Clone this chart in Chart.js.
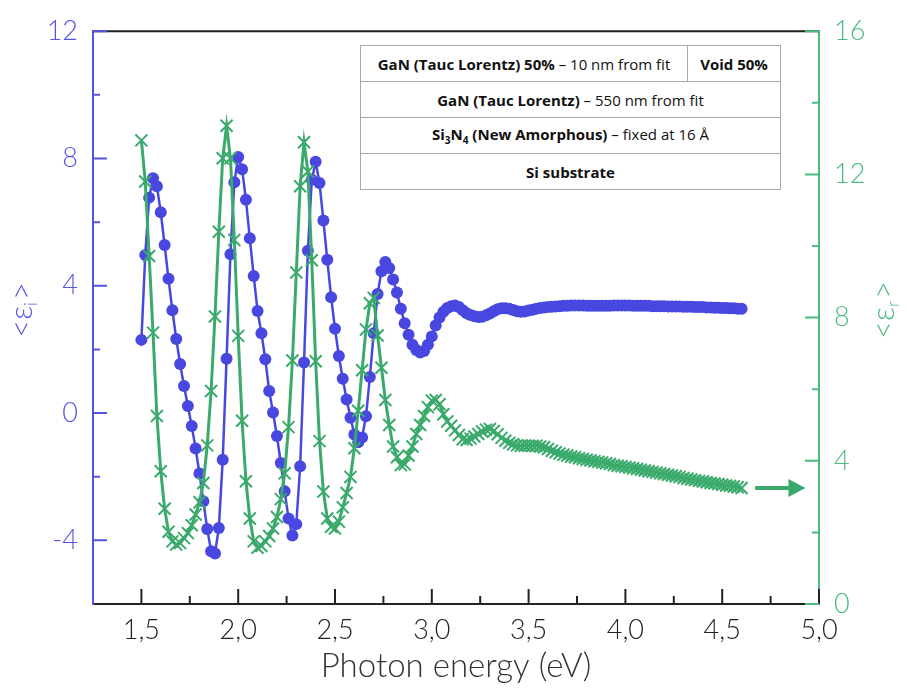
<!DOCTYPE html>
<html>
<head>
<meta charset="utf-8">
<script src="https://cdn.jsdelivr.net/npm/chart.js@4.4.1/dist/chart.umd.min.js"></script>
<style>
  body { margin: 0; background: #fff; }
  #wrap { position: relative; width: 907px; height: 694px; }
  #stack {
    position: absolute; left: 360px; top: 45px; width: 421px;
    border-collapse: collapse; background: #fff;
    font-family: 'Open Sans', sans-serif; font-size: 15px; color: #111;
  }
  #stack td { border: 1.5px solid #a8a8a8; height: 35px; padding: 0; text-align: center; white-space: nowrap; }
  #stack b { font-weight: 700; }
  #stack sub { font-size: 10px; }
</style>
</head>
<body>
<div id="wrap">
  <canvas id="chart" width="907" height="694"></canvas>
  <table id="stack">
    <tr><td style="width:326px"><b>GaN (Tauc Lorentz) 50%</b> – 10 nm from fit</td><td><b>Void 50%</b></td></tr>
    <tr><td colspan="2"><b>GaN (Tauc Lorentz)</b> – 550 nm from fit</td></tr>
    <tr><td colspan="2"><b>Si<sub>3</sub>N<sub>4</sub> (New Amorphous)</b> – fixed at 16 Å</td></tr>
    <tr><td colspan="2"><b>Si substrate</b></td></tr>
  </table>
</div>
<script>
// ── Data ─────────────────────────────────────────────────────
const energy = [
  1.50,1.52,1.54,1.56,1.58,1.60,1.62,1.64,1.66,1.68,1.70,1.72,1.74,1.76,1.78,1.80,1.82,1.84,1.86,1.88,
  1.90,1.92,1.94,1.96,1.98,2.00,2.02,2.04,2.06,2.08,2.10,2.12,2.14,2.16,2.18,2.20,2.22,2.24,2.26,2.28,
  2.30,2.32,2.34,2.36,2.38,2.40,2.42,2.44,2.46,2.48,2.50,2.52,2.54,2.56,2.58,2.60,2.62,2.64,2.66,2.68,
  2.70,2.72,2.74,2.76,2.78,2.80,2.82,2.84,2.86,2.88,2.90,2.92,2.94,2.96,2.98,3.00,3.02,3.04,3.06,3.08,
  3.10,3.12,3.14,3.16,3.18,3.20,3.22,3.24,3.26,3.28,3.30,3.32,3.34,3.36,3.38,3.40,3.42,3.44,3.46,3.48,
  3.50,3.52,3.54,3.56,3.58,3.60,3.62,3.64,3.66,3.68,3.70,3.72,3.74,3.76,3.78,3.80,3.82,3.84,3.86,3.88,
  3.90,3.92,3.94,3.96,3.98,4.00,4.02,4.04,4.06,4.08,4.10,4.12,4.14,4.16,4.18,4.20,4.22,4.24,4.26,4.28,
  4.30,4.32,4.34,4.36,4.38,4.40,4.42,4.44,4.46,4.48,4.50,4.52,4.54,4.56,4.58,4.60
];

// <ε_i>, left axis
const epsI = [
  2.30,4.97,6.77,7.38,7.13,6.31,5.28,4.22,3.23,2.33,1.54,0.85,0.22,-0.41,-1.11,-1.90,-2.77,-3.64,-4.34,-4.41,
  -3.61,-1.47,1.71,4.99,7.25,8.05,7.66,6.70,5.49,4.31,3.21,2.51,1.69,0.69,0.02,-0.72,-1.57,-2.46,-3.31,-3.85,
  -3.49,-1.67,1.59,5.10,7.33,7.90,7.23,6.05,4.82,3.64,2.65,1.79,1.08,0.43,-0.15,-0.67,-0.92,-0.77,-0.10,1.13,
  2.51,3.74,4.46,4.75,4.56,4.20,3.79,3.28,2.82,2.46,2.15,1.98,1.90,1.95,2.15,2.41,2.75,3.00,3.18,3.30,
  3.36,3.38,3.33,3.23,3.14,3.08,3.04,3.02,3.03,3.07,3.13,3.20,3.26,3.29,3.29,3.28,3.24,3.20,3.18,3.19,
  3.22,3.25,3.28,3.30,3.32,3.33,3.34,3.35,3.36,3.37,3.37,3.38,3.38,3.38,3.38,3.37,3.37,3.37,3.37,3.37,
  3.37,3.37,3.38,3.38,3.38,3.38,3.38,3.37,3.37,3.37,3.37,3.37,3.36,3.36,3.36,3.36,3.35,3.35,3.35,3.35,
  3.34,3.34,3.34,3.33,3.33,3.33,3.32,3.32,3.31,3.31,3.30,3.30,3.29,3.29,3.28,3.28
];

// <ε_r>, right axis
const epsR = [
  12.95,11.80,9.72,7.58,5.25,3.71,2.66,2.02,1.75,1.66,1.70,1.84,1.98,2.20,2.50,2.84,3.38,4.43,5.95,8.03,
  10.40,12.45,13.36,12.45,10.17,7.49,5.12,3.43,2.39,1.75,1.57,1.62,1.75,1.90,2.11,2.43,2.93,3.65,4.94,6.80,
  9.26,11.67,12.90,12.08,9.60,6.78,4.55,3.14,2.39,2.16,2.11,2.30,2.70,3.10,3.55,4.35,5.40,6.53,7.67,8.40,
  8.55,7.50,6.60,5.70,5.00,4.40,4.10,3.88,3.90,4.15,4.40,4.75,5.00,5.25,5.50,5.68,5.70,5.58,5.30,5.10,
  4.98,4.85,4.72,4.60,4.58,4.62,4.68,4.75,4.82,4.87,4.89,4.83,4.74,4.64,4.56,4.50,4.46,4.43,4.42,4.42,
  4.42,4.42,4.42,4.40,4.38,4.33,4.28,4.24,4.20,4.17,4.15,4.12,4.10,4.07,4.05,4.03,4.01,3.99,3.97,3.95,
  3.93,3.91,3.88,3.86,3.85,3.83,3.81,3.79,3.77,3.75,3.73,3.71,3.69,3.67,3.65,3.63,3.61,3.59,3.57,3.55,
  3.52,3.50,3.48,3.46,3.44,3.42,3.40,3.38,3.37,3.35,3.33,3.31,3.30,3.28,3.26,3.24
];

const xTicks      = [1.5, 2.0, 2.5, 3.0, 3.5, 4.0, 4.5, 5.0];
const xMinor      = [1.75, 2.25, 2.75, 3.25, 3.75, 4.25, 4.75];
const leftTicks   = [-4, 0, 4, 8, 12];
const leftMinor   = [-2, 2, 6, 10];
const rightTicks  = [0, 4, 8, 12, 16];
const rightMinor  = [2, 6, 10, 14];

// ── Styling ──────────────────────────────────────────────────
const BLUE   = '#4848e0';
const BLUE_AX = '#5555e4';
const GREEN  = '#3aaa6c';
const GREEN_AX = '#4dba7e';
const TICK_FONT = { family: "Lato, 'Open Sans', sans-serif", size: 27, weight: '300' };

const setTicks = vals => scale => { scale.ticks = vals.map(v => ({ value: v })); };

// ticks inward, axis titles with subscripts, top border, arrow
const decor = {
  id: 'decor',
  afterDatasetsDraw(chart) {
    const { ctx, chartArea: a, scales } = chart;
    ctx.save();
    ctx.lineWidth = 2;

    // top frame line
    ctx.strokeStyle = '#222';
    ctx.beginPath(); ctx.moveTo(a.left, a.top); ctx.lineTo(a.right, a.top); ctx.stroke();

    const mark = (color, fn) => { ctx.strokeStyle = color; ctx.beginPath(); fn(); ctx.stroke(); };
    mark('#222', () => {
      xTicks.forEach(v => { const p = scales.x.getPixelForValue(v); ctx.moveTo(p, a.bottom); ctx.lineTo(p, a.bottom - 15); });
      xMinor.forEach(v => { const p = scales.x.getPixelForValue(v); ctx.moveTo(p, a.bottom); ctx.lineTo(p, a.bottom - 8); });
    });
    mark(BLUE_AX, () => {
      leftTicks.forEach(v => { const p = scales.yL.getPixelForValue(v); ctx.moveTo(a.left, p); ctx.lineTo(a.left + 14, p); });
      leftMinor.forEach(v => { const p = scales.yL.getPixelForValue(v); ctx.moveTo(a.left, p); ctx.lineTo(a.left + 7, p); });
    });
    mark(GREEN_AX, () => {
      rightTicks.forEach(v => { const p = scales.yR.getPixelForValue(v); ctx.moveTo(a.right, p); ctx.lineTo(a.right - 14, p); });
      rightMinor.forEach(v => { const p = scales.yR.getPixelForValue(v); ctx.moveTo(a.right, p); ctx.lineTo(a.right - 7, p); });
    });

    // arrow pointing to the right axis
    const ay = scales.yR.getPixelForValue(epsR[epsR.length - 1]);
    const ax0 = scales.x.getPixelForValue(4.67);
    const ax1 = scales.x.getPixelForValue(4.93);
    ctx.strokeStyle = GREEN; ctx.fillStyle = GREEN; ctx.lineWidth = 4;
    ctx.beginPath(); ctx.moveTo(ax0, ay); ctx.lineTo(ax1 - 12, ay); ctx.stroke();
    ctx.beginPath(); ctx.moveTo(ax1, ay); ctx.lineTo(ax1 - 17, ay - 9); ctx.lineTo(ax1 - 17, ay + 9); ctx.closePath(); ctx.fill();

    // axis titles
    const epsTitle = (cx, cy, sub, color) => {
      ctx.save();
      ctx.translate(cx, cy);
      ctx.rotate(-Math.PI / 2);
      ctx.fillStyle = color;
      ctx.textBaseline = 'middle';
      const big = "300 31px Lato, 'Open Sans', sans-serif";
      const small = "300 17px Lato, 'Open Sans', sans-serif";
      ctx.font = big;
      const w1 = ctx.measureText('<ε').width, w3 = ctx.measureText('>').width;
      ctx.font = small;
      const w2 = ctx.measureText(sub).width + 2;
      let x = -(w1 + w2 + w3) / 2;
      ctx.font = big; ctx.fillText('<ε', x, 0); x += w1;
      ctx.font = small; ctx.fillText(sub, x, 10); x += w2;
      ctx.font = big; ctx.fillText('>', x, 0);
      ctx.restore();
    };
    epsTitle(22, 310, 'i', BLUE_AX);
    epsTitle(884, 310, 'r', GREEN_AX);

    ctx.fillStyle = '#333';
    ctx.font = "300 33px Lato, 'Open Sans', sans-serif";
    ctx.textAlign = 'center'; ctx.textBaseline = 'middle';
    ctx.fillText('Photon energy (eV)', 456, 666);
    ctx.restore();
  }
};

new Chart(document.getElementById('chart'), {
  type: 'line',
  data: {
    datasets: [
      {
        label: '<εr>',
        data: energy.map((e, i) => ({ x: e, y: epsR[i] })),
        yAxisID: 'yR',
        borderColor: GREEN,
        borderWidth: 3,
        pointStyle: 'crossRot',
        pointRadius: 8.5,
        pointBorderColor: GREEN,
        pointBorderWidth: 2,
        tension: 0,
        order: 1,
      },
      {
        label: '<εi>',
        data: energy.map((e, i) => ({ x: e, y: epsI[i] })),
        yAxisID: 'yL',
        borderColor: BLUE,
        borderWidth: 2.5,
        pointStyle: 'circle',
        pointRadius: 6,
        pointBackgroundColor: BLUE,
        pointBorderColor: BLUE,
        pointBorderWidth: 0,
        tension: 0,
        order: 2,
      },
    ],
  },
  options: {
    responsive: false,
    animation: false,
    layout: { padding: { top: 18, left: 0, right: 0, bottom: 0 } },
    plugins: { legend: { display: false }, tooltip: { enabled: false } },
    scales: {
      x: {
        type: 'linear', position: 'bottom', min: 1.25, max: 5.0,
        afterBuildTicks: setTicks(xTicks),
        afterFit: s => { s.height = 90; },
        grid: { display: false, drawTicks: false },
        border: { color: '#222', width: 2 },
        ticks: { color: '#222', font: TICK_FONT, padding: 10, maxRotation: 0,
                 callback: v => v.toFixed(1).replace('.', ',') },
      },
      yL: {
        type: 'linear', position: 'left', min: -6, max: 12,
        afterBuildTicks: setTicks(leftTicks),
        afterFit: s => { s.width = 93; },
        grid: { display: false, drawTicks: false },
        border: { color: BLUE_AX, width: 2 },
        ticks: { color: BLUE_AX, font: TICK_FONT, padding: 15 },
      },
      yR: {
        type: 'linear', position: 'right', min: 0, max: 16,
        afterBuildTicks: setTicks(rightTicks),
        afterFit: s => { s.width = 88; },
        grid: { display: false, drawTicks: false },
        border: { color: GREEN_AX, width: 2 },
        ticks: { color: GREEN_AX, font: TICK_FONT, padding: 15 },
      },
    },
  },
  plugins: [decor],
});
</script>
</body>
</html>
